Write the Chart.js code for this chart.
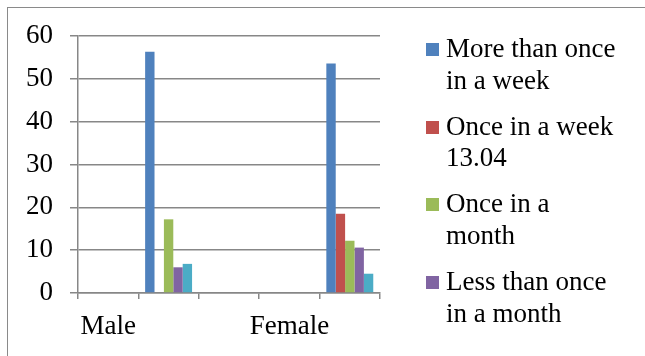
<!DOCTYPE html>
<html>
<head>
<meta charset="utf-8">
<script src="https://cdn.jsdelivr.net/npm/chart.js@4.4.1/dist/chart.umd.min.js"></script>
<style>
  body { margin: 0; background: #fff; }
  #wrap { position: relative; width: 645px; height: 356px; overflow: hidden; background: #fff; }
  #frame { position: absolute; left: 7px; top: 7px; width: 700px; height: 400px;
           border-left: 1.5px solid #8a8a8a; border-top: 1.5px solid #8a8a8a; }
  #legend { position: absolute; left: 426px; top: 33px; font-family: "Liberation Serif", serif;
            font-size: 27px; line-height: 31.5px; color: #000; }
  .item { position: relative; padding-left: 20px; margin-bottom: 14.7px; white-space: pre; }
  .box { position: absolute; left: 0; top: 10px; width: 13px; height: 13px; }
</style>
</head>
<body>
<div id="wrap">
  <div id="frame"></div>
  <canvas id="chart" width="645" height="356"></canvas>
  <div id="legend"></div>
</div>
<script>
const categories = ['Male', '', '', 'Female', ''];
const seriesNames = ['More than once\nin a week', 'Once in a week\n13.04', 'Once in a\nmonth', 'Less than once\nin a month', ''];
const moreThanOnce = [null, 56.3, null, null, 53.6];
const onceWeek = [null, null, null, null, 18.5];
const onceMonth = [null, 17.2, null, null, 12.2];
const lessThanOnce = [null, 6.0, null, null, 10.6];
const fifthSeries = [null, 6.8, null, null, 4.5];
const colors = ['#4F81BD', '#C0504D', '#9BBB59', '#8064A2', '#4BACC6'];
const yTicks = [0, 10, 20, 30, 40, 50, 60];

const allSeries = [moreThanOnce, onceWeek, onceMonth, lessThanOnce, fifthSeries];
const gridColor = '#878787';
const font = { family: 'Liberation Serif', size: 27 };

const datasets = allSeries.map((vals, i) => ({
    label: seriesNames[i],
    data: vals,
    backgroundColor: colors[i],
    borderWidth: 0,
    categoryPercentage: 0.777,
    barPercentage: 1.0
}));

new Chart(document.getElementById('chart'), {
    type: 'bar',
    data: { labels: categories, datasets: datasets },
    options: {
        responsive: false,
        animation: false,
        layout: { padding: { left: 26, right: 265, top: 36, bottom: 0 } },
        plugins: { legend: { display: false }, tooltip: { enabled: false } },
        scales: {
            x: {
                afterFit: axis => { axis.height = 63; },
                grid: { drawOnChartArea: false, drawTicks: true, tickLength: 6, color: gridColor, lineWidth: 1.5, offset: true },
                border: { color: gridColor, width: 1.5 },
                ticks: { font: font, color: '#000', padding: 12, autoSkip: false, maxRotation: 0 }
            },
            y: {
                min: 0,
                max: 60,
                afterBuildTicks: axis => { axis.ticks = yTicks.map(v => ({ value: v })); },
                afterFit: axis => { axis.width = 52; },
                grid: { color: gridColor, lineWidth: 1.5, tickLength: 8 },
                border: { color: gridColor, width: 1.5 },
                ticks: { font: font, color: '#000', padding: 17 }
            }
        }
    }
});

// legend (last series has no entry in the original)
const legend = document.getElementById('legend');
seriesNames.slice(0, 4).forEach((name, i) => {
    const item = document.createElement('div');
    item.className = 'item';
    const box = document.createElement('span');
    box.className = 'box';
    box.style.background = colors[i];
    item.appendChild(box);
    item.appendChild(document.createTextNode(name));
    legend.appendChild(item);
});
</script>
</body>
</html>
